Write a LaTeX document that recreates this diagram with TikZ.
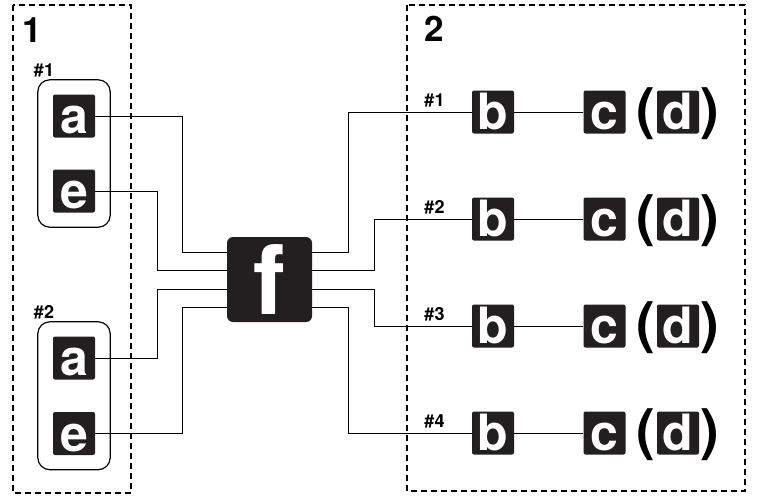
\documentclass[tikz,border=0pt]{standalone}
\usepackage{fontspec}
\setmainfont{TeX Gyre Heros}
\usetikzlibrary{fit}
\definecolor{boxfill}{HTML}{231F20}

\tikzset{
    letterbox/.style={fill=boxfill, text=white, rounded corners=2pt, inner sep=0pt,
        minimum width=42pt, minimum height=43pt, text height=36pt, text depth=1pt,
        font=\fontsize{50}{50}\selectfont\bfseries},
    bigbox/.style={fill=boxfill, text=white, rounded corners=6pt, inner sep=0pt,
        minimum size=85pt, font=\fontsize{96}{96}\selectfont\bfseries},
    groupbox/.style={draw, line width=1.2pt, rounded corners=12pt, inner xsep=15pt, inner ysep=14.5pt},
    dashbox/.style={draw, line width=1.2pt, dash pattern=on 6pt off 4pt},
    wire/.style={line width=0.8pt},
    tag/.style={inner sep=0pt, text depth=0pt, font=\fontsize{18}{18}\selectfont\bfseries},
    zone/.style={inner sep=0pt, font=\fontsize{35}{35}\selectfont\bfseries},
    paren/.style={inner sep=0pt, font=\fontsize{56}{56}\selectfont\bfseries}
}

\begin{document}
\begin{tikzpicture}[x=1pt, y=-1pt]
    \useasboundingbox (0,0) rectangle (757,495);

    % the two zones
    \draw[dashbox] (13,5) rectangle (131,493);
    \draw[dashbox] (407,5) rectangle (745,491);
    \node[zone] (z1) at (32,30) {1};
    \node[zone] (z2) at (434,29) {2};

    % left side
    \node[letterbox] (a1) at (74,116) {a};
    \node[letterbox] (e1) at (74,191) {e};
    \node[letterbox] (a2) at (74,358) {a};
    \node[letterbox] (e2) at (74,433.5) {e};
    \node[groupbox, fit=(a1)(e1)] (g1) {};
    \node[groupbox, fit=(a2)(e2)] (g2) {};
    \node[tag] (h1) at (44,70) {\#1};
    \node[tag] (h2) at (44,311.5) {\#2};

    % center
    \node[bigbox] (f) at (269.5,279.5) {f};
    \foreach \i/\s in {1/27.5,2/9.5,3/-9.5,4/-27.5} {
        \coordinate (fp\i) at ([yshift=\s pt]f.west);
        \coordinate (fq\i) at ([yshift=\s pt]f.east);
    }

    \draw[wire] (a1.east) -| ([xshift=-44pt]fp1) -- (fp1);
    \draw[wire] (e1.east) -| ([xshift=-69pt]fp2) -- (fp2);
    \draw[wire] (a2.east) -| ([xshift=-69pt]fp3) -- (fp3);
    \draw[wire] (e2.east) -| ([xshift=-44pt]fp4) -- (fp4);

    % right side
    \foreach \i/\y/\d in {1/112/36,2/219/62,3/326/62,4/433/36} {
        \node[letterbox] (b\i) at (493,\y) {b};
        \node[letterbox] (c\i) at (604.5,\y) {c};
        \node[letterbox] (d\i) at (678,\y) {d};
        \node[paren] (l\i) at (645.5,\y+2) {(};
        \node[paren] (r\i) at (709.5,\y+2) {)};
        \node[tag, anchor=south] (t\i) at (434.5,\y-5) {\#\i};
        \draw[wire] (fq\i) -- ([xshift=\d pt]fq\i) |- (b\i.west);
        \draw[wire] (b\i) -- (c\i);
    }
\end{tikzpicture}
\end{document}
